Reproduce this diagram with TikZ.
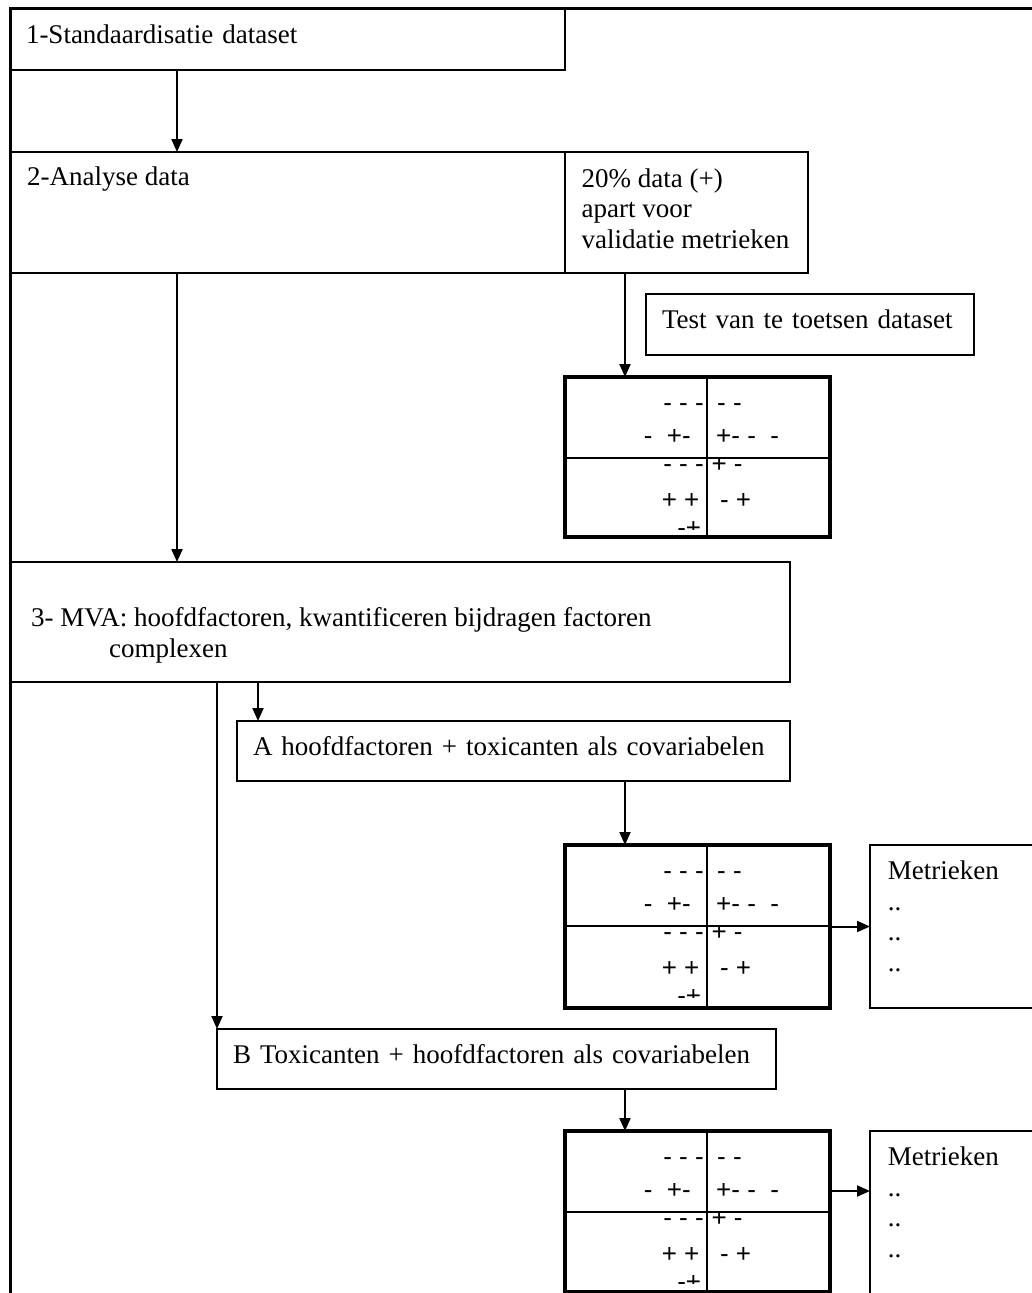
\documentclass[tikz,border=0pt]{standalone}
\usepackage{fontspec}
\setmainfont{Liberation Serif}
\newfontfamily\tekenfont{Liberation Sans}
\usetikzlibrary{arrows.meta}

\tikzset{
  kader/.style={line width=3pt},
  blok/.style={draw, line width=2pt, anchor=north west, inner xsep=16pt, inner ysep=0pt, outer sep=0pt, align=left},
  dunblok/.style={blok, line width=1.5pt},
  eenregel/.style={text height=19pt, text depth=11pt},
  binnen/.style={anchor=north west, inner sep=0pt, align=left},
  tabel/.style={draw, line width=3.6pt, anchor=north west, minimum width=265pt, inner sep=0pt, outer sep=0pt},
  deler/.style={line width=1.6pt},
  teken/.style={inner sep=0pt, font=\tekenfont\fontsize{26}{30}\selectfont},
  pijl/.style={->, line width=2pt}
}

\begin{document}
\begin{tikzpicture}[x=1pt, y=-1pt, >={Triangle[length=13pt,width=11pt]}, font=\fontsize{27}{30.5}\selectfont]
\useasboundingbox (0,0) rectangle (1031,1293);
% kader rondom het schema
\draw[kader] (1040,8) -- (10,8) -- (10,1300);

% stappen
\node[blok, eenregel, text width=523pt, minimum height=62pt] (stap1) at (10,8) {1-Standaardisatie dataset};
\node[blok, minimum width=555pt, minimum height=121pt,
  label={[binnen, xshift=17pt, yshift=-14.6pt]north west:{2-Analyse data}}] (stap2) at (10,152) {};
\node[blok, minimum width=243pt, minimum height=121pt,
  label={[binnen, xshift=16.5pt, yshift=-16.3pt]north west:{20\% data (+)\\apart voor\\validatie metrieken}}] (apart) at (565,152) {};
\node[dunblok, eenregel, text width=296pt, minimum height=61pt] (toets) at (646,294) {Test van te toetsen dataset};
\node[blok, minimum width=780pt, minimum height=120pt,
  label={[binnen, xshift=21pt, yshift=-45.6pt]north west:{3- MVA: hoofdfactoren, kwantificeren bijdragen factoren\\\hspace*{78pt}complexen}}] (stap3) at (10,562) {};
\node[blok, eenregel, text width=521pt, minimum height=60pt] (stapA) at (237,721) {A hoofdfactoren + toxicanten als covariabelen};
\node[blok, eenregel, text width=527pt, minimum height=60pt] (stapB) at (217,1029) {B Toxicanten + hoofdfactoren als covariabelen};
\node[dunblok, minimum width=200pt, minimum height=163pt,
  label={[binnen, xshift=17.7pt, yshift=-15.6pt]north west:{Metrieken\\..\\..\\..}}] (metriek1) at (870,845) {};
\node[dunblok, minimum width=200pt, minimum height=200pt,
  label={[binnen, xshift=17.7pt, yshift=-15.6pt]north west:{Metrieken\\..\\..\\..}}] (metriek2) at (870,1131) {};

% tabellen met + en -
\foreach \naam/\boven/\hoogte in {tabel1/377/160, tabel2/845/163, tabel3/1131/161}{
  \node[tabel, minimum height=\hoogte*1pt] (\naam) at (565,\boven) {};
  \draw[deler] ([xshift=142pt]\naam.north west) -- ([xshift=142pt]\naam.south west);
  \draw[deler] ([yshift=-81pt]\naam.north west) -- ([yshift=-81pt]\naam.north east);
  \begin{scope}[shift={(\naam.north west)}]
    \node[teken, anchor=base east] (\naam-l1) at (139,34.4) {- - -};
    \node[teken, anchor=base east] (\naam-l2) at (126,67.7) {-\ \ +-};
    \node[teken, anchor=base east] (\naam-l3) at (139,95.4) {- - -};
    \node[teken, anchor=base east] (\naam-l4) at (134.6,131.7) {+ +};
    \node[teken, anchor=base west] (\naam-r1) at (152,34.4) {- -};
    \node[teken, anchor=base west] (\naam-r2) at (151,67.7) {+- -\ \ -};
    \node[teken, anchor=base west] (\naam-r3) at (146.4,95.4) {+ -};
    \node[teken, anchor=base west] (\naam-r4) at (154.8,131.7) {- +};
    \begin{scope}
      \clip (0,0) rectangle (142,152.5);
      \node[teken, anchor=base east] (\naam-l5) at (136.3,159.4) {-+};
    \end{scope}
  \end{scope}
}

% verbindingen
\coordinate (spoor1) at (177,0);
\coordinate (spoor2) at (625,0);
\coordinate (spoor3) at (258,0);
\coordinate (spoor4) at (217,0);
\coordinate (hoogte5) at (0,1191);
\draw[pijl] (stap1.south -| spoor1) -- (stap2.north -| spoor1);
\draw[pijl] (stap2.south -| spoor1) -- (stap3.north -| spoor1);
\draw[pijl] (apart.south -| spoor2) -- (tabel1.north -| spoor2);
\draw[pijl] (stap3.south -| spoor3) -- (stapA.north -| spoor3);
\draw[pijl] (stap3.south -| spoor4) -- (stapB.north west);
\draw[pijl] (stapA.south -| spoor2) -- (tabel2.north -| spoor2);
\draw[pijl] (stapB.south -| spoor2) -- (tabel3.north -| spoor2);
\draw[pijl] (tabel2.east) -- (metriek1.west);
\draw[pijl] (tabel3.east |- hoogte5) -- (metriek2.west |- hoogte5);
\end{tikzpicture}
\end{document}
